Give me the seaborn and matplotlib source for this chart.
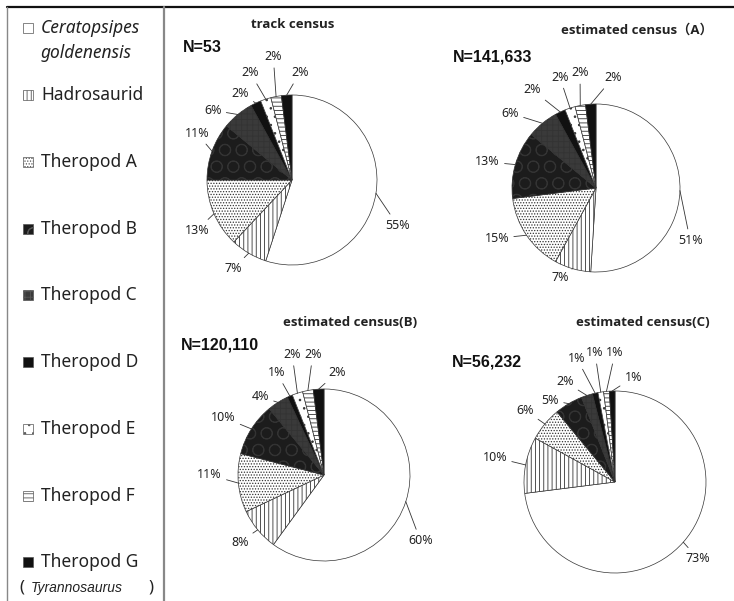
import numpy as np
import matplotlib
matplotlib.use("Agg")
import matplotlib.pyplot as plt
from matplotlib.patches import Rectangle
import seaborn as sns

# groups, in the order they go round each pie (clockwise from 12 o'clock)
groups = ["Ceratopsipes goldenensis", "Hadrosaurid", "Theropod A", "Theropod B",
          "Theropod C", "Theropod D", "Theropod E", "Theropod F", "Theropod G"]

track_census = [55, 7, 13, 11, 6, 2, 2, 2, 2]
census_a = [51, 7, 15, 13, 6, 2, 2, 2, 2]
census_b = [60, 8, 11, 10, 4, 1, 2, 2, 2]
census_c = [73, 10, 6, 5, 2, 1, 1, 1, 1]

titles = ["track census", "estimated census\uff08A\uff09", "estimated census(B)", "estimated census(C)"]
n_labels = ["N=53", "N=141,633", "N=120,110", "N=56,232"]

# fill style per group: face, hatch, hatch colour
styles = [("white", None, "#333333"),
          ("white", "||||", "#111111"),
          ("white", "......", "#8a8a8a"),
          ("#1c1c1c", "O", "#707070"),
          ("#3a3a3a", "+++", "#a8a8a8"),
          ("#111111", None, "#111111"),
          ("white", "..", "#999999"),
          ("white", "----", "#222222"),
          ("#111111", None, "#111111")]

W, H = 734, 601

# pie centre (px), radius (px), title centre, N label left/centre
layout = [
    dict(c=(292, 180), r=85, t=(293, 25), n=(183, 48)),
    dict(c=(596, 188), r=84, t=(637, 30), n=(453, 57)),
    dict(c=(324, 475), r=86, t=(350, 322), n=(181, 345)),
    dict(c=(615, 482), r=91, t=(643, 322), n=(452, 362)),
]

# label positions in units of the pie radius
label_pos = [
    [(1.24, -0.53), (-0.69, -1.04), (-1.12, -0.59), (-1.12, 0.55), (-0.93, 0.82),
     (-0.61, 1.02), (-0.49, 1.26), (-0.22, 1.45), (0.09, 1.26)],
    [(1.12, -0.62), (-0.43, -1.06), (-1.18, -0.60), (-1.29, 0.31), (-1.02, 0.89),
     (-0.76, 1.17), (-0.43, 1.32), (-0.19, 1.37), (0.20, 1.31)],
    [(1.12, -0.76), (-0.98, -0.78), (-1.33, 0.0), (-1.17, 0.67), (-0.74, 0.91),
     (-0.55, 1.19), (-0.37, 1.40), (-0.13, 1.40), (0.15, 1.19)],
    [(0.91, -0.84), (-1.32, 0.27), (-0.99, 0.79), (-0.71, 0.90), (-0.55, 1.10),
     (-0.42, 1.36), (-0.22, 1.42), (0.0, 1.42), (0.20, 1.15)],
]

sns.set_style("white")
plt.rcParams["font.family"] = ["Noto Sans", "DejaVu Sans"]
plt.rcParams["hatch.linewidth"] = 0.6

title_fonts = ["Open Sans", "Noto Sans CJK JP", "DejaVu Sans"]


def fx(x):
    return x / W


def fy(y):
    return 1 - y / H


def style_patch(p, face, hatch, hcol):
    p.set_facecolor(face)
    p.set_edgecolor("#333333")
    p.set_linewidth(0.5)
    if hatch:
        p.set_hatch(hatch)
        if hasattr(p, "set_hatchcolor"):
            p.set_hatchcolor(hcol)


fig = plt.figure(figsize=(W / 100, H / 100), dpi=100)

# frame lines
frame = fig.add_axes([0, 0, 1, 1])
frame.set_xlim(0, W)
frame.set_ylim(H, 0)
frame.axis("off")
frame.plot([7, W], [7, 7], color="#111111", lw=1.6)
frame.plot([7, 7], [7, H], color="#888888", lw=1.0)
frame.plot([164, 164], [7, H], color="#888888", lw=1.6)

# legend column
legend_y = [28, 95, 162, 229, 295, 362, 429, 496, 562]
for i, (g, y) in enumerate(zip(groups, legend_y)):
    face, hatch, hcol = styles[i]
    sq = Rectangle((23, y - 5), 10, 10, transform=frame.transData)
    style_patch(sq, face, hatch, hcol)
    sq.set_edgecolor("#555555")
    frame.add_patch(sq)
    if i == 0:
        frame.text(41, y, "Ceratopsipes", fontsize=12.5, style="italic", va="center", color="#222222")
        frame.text(41, 53, "goldenensis", fontsize=12.5, style="italic", va="center", color="#222222")
    else:
        frame.text(41, y, g, fontsize=12.5, va="center", color="#222222")
frame.text(19, 588, "(", fontsize=12, va="center", color="#222222")
frame.text(31, 588, "Tyrannosaurus", fontsize=10, style="italic", va="center",
           family="Liberation Sans", color="#222222")
frame.text(148, 588, ")", fontsize=12, va="center", color="#222222")

all_values = [track_census, census_a, census_b, census_c]
ext = 1.6
for k, values in enumerate(all_values):
    lay = layout[k]
    cx, cy = lay["c"]
    size = 2 * ext * lay["r"]
    ax = fig.add_axes([fx(cx - size / 2), fy(cy + size / 2), size / W, size / H])
    wedges, _ = ax.pie(values, startangle=90, counterclock=False, radius=1)
    for w, (face, hatch, hcol) in zip(wedges, styles):
        style_patch(w, face, hatch, hcol)
    for w, v, (lx, ly) in zip(wedges, values, label_pos[k]):
        mid = np.deg2rad((w.theta1 + w.theta2) / 2)
        ax.annotate(f"{v}%", xy=(np.cos(mid), np.sin(mid)), xytext=(lx, ly),
                    fontsize=9, ha="center", va="center", color="#222222",
                    arrowprops=dict(arrowstyle="-", lw=0.6, color="#333333",
                                    shrinkA=1, shrinkB=0))
    ax.set_xlim(-ext, ext)
    ax.set_ylim(-ext, ext)
    ax.set_aspect("equal")
    ax.axis("off")

    tx, ty = lay["t"]
    frame.text(tx, ty, titles[k], fontsize=9.5, weight="bold", ha="center", va="center",
               family=title_fonts, color="#222222")
    nx, ny = lay["n"]
    frame.text(nx, ny, n_labels[k], fontsize=11.5, weight="bold", ha="left", va="center",
               family="Liberation Sans", color="#111111")

fig.savefig("out.png", dpi=100)
